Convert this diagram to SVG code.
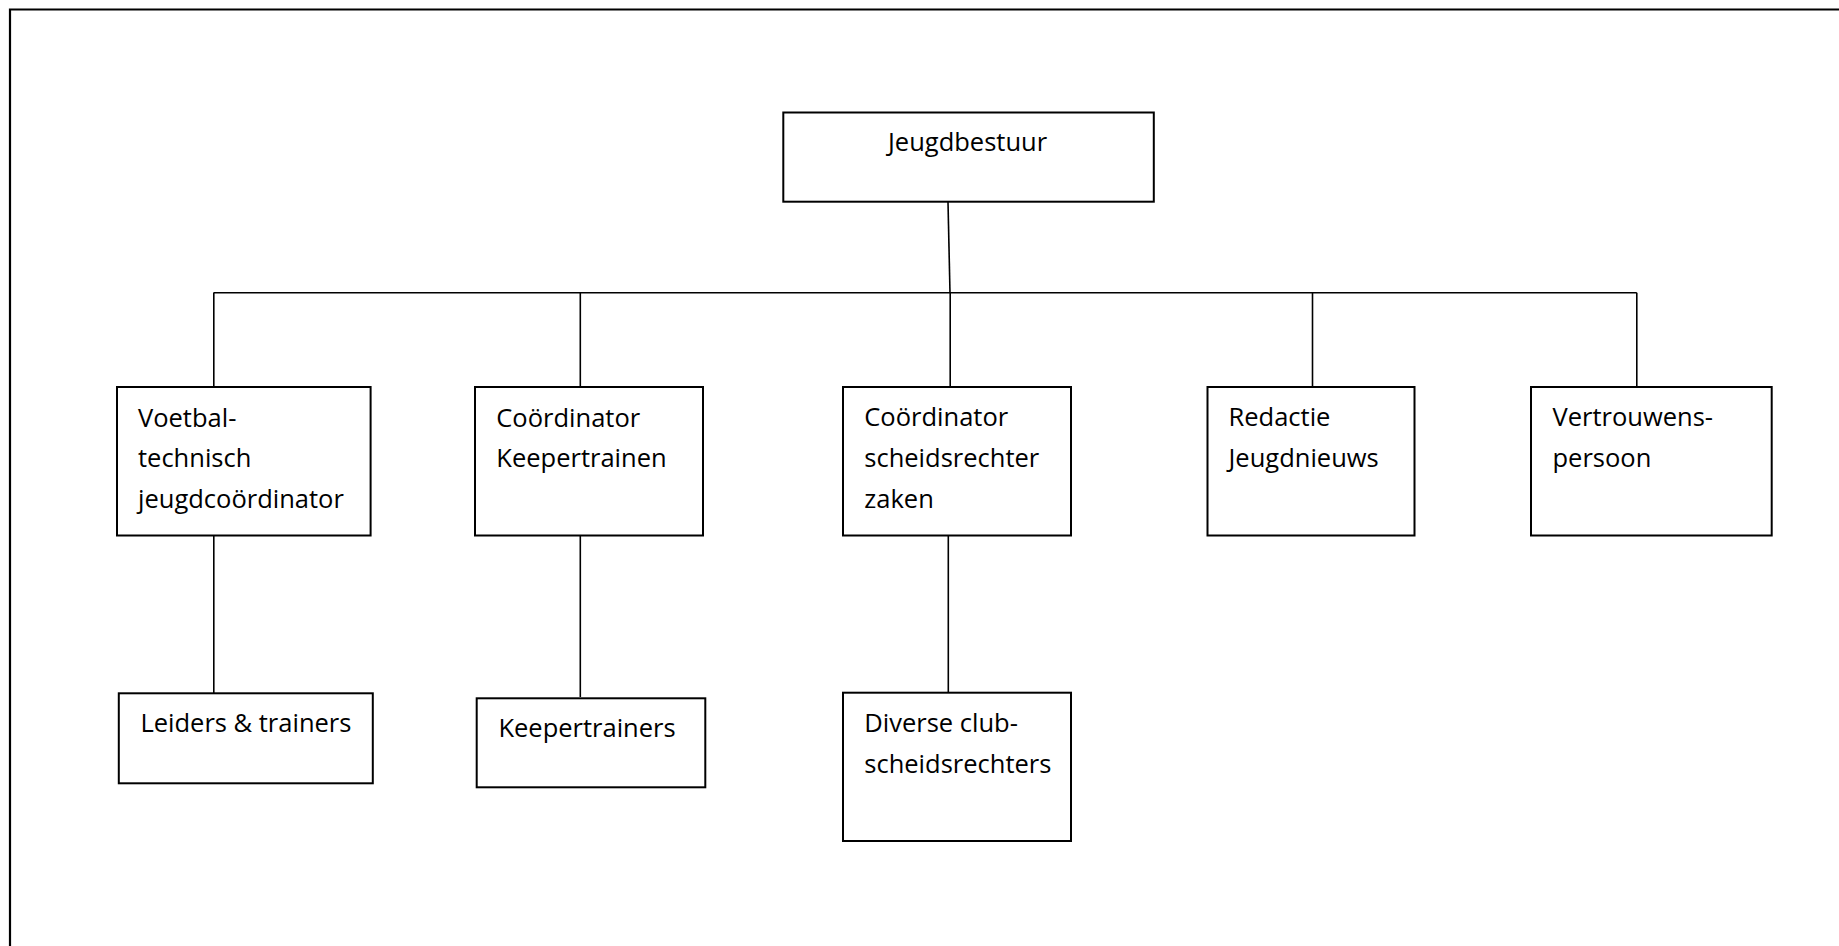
<svg xmlns="http://www.w3.org/2000/svg" width="1839" height="946" viewBox="0 0 1839 946">
<style>
.box{fill:#fff;stroke:#000;stroke-width:2}
.ln{fill:none;stroke:#000;stroke-width:1.6}
text{font-family:"Open Sans","Noto Sans","Liberation Sans",sans-serif;font-size:25.5px;fill:#000}
</style>
<rect width="1839" height="946" fill="#fff"/>
<path d="M10,946 V9.5 H1839" fill="none" stroke="#000" stroke-width="2.2"/>
<g id="connectors">
<path class="ln" d="M948,202 L950,293"/>
<path class="ln" d="M213.5,292.7 H1636.8"/>
<path class="ln" d="M213.8,292.7 V387"/>
<path class="ln" d="M580.3,292.7 V387"/>
<path class="ln" d="M950.2,292.7 V387"/>
<path class="ln" d="M1312.5,292.7 V387"/>
<path class="ln" d="M1636.8,292.7 V387"/>
<path class="ln" d="M213.8,535 V693"/>
<path class="ln" d="M580.3,535 V697"/>
<path class="ln" d="M948.3,535 V693"/>
</g>
<g id="jeugdbestuur">
<rect class="box" x="783.3" y="112.5" width="370.5" height="89.2"/>
<text x="888" y="151">Jeugdbestuur</text>
</g>
<g id="voetbal">
<rect class="box" x="117" y="387" width="253.6" height="148.5"/>
<text x="138" y="426.7">Voetbal-</text>
<text x="138" y="467.3">technisch</text>
<text x="138" y="507.7">jeugdcoördinator</text>
</g>
<g id="keepercoord">
<rect class="box" x="475" y="387" width="228" height="148.5"/>
<text x="496.3" y="426.7">Coördinator</text>
<text x="496.3" y="467.3">Keepertrainen</text>
</g>
<g id="scheidscoord">
<rect class="box" x="843" y="387" width="228" height="148.5"/>
<text x="864.3" y="426">Coördinator</text>
<text x="864.3" y="466.7">scheidsrechter</text>
<text x="864.3" y="507.7">zaken</text>
</g>
<g id="redactie">
<rect class="box" x="1207.5" y="387" width="207" height="148.5"/>
<text x="1228.5" y="426">Redactie</text>
<text x="1228.5" y="467.3">Jeugdnieuws</text>
</g>
<g id="vertrouwens">
<rect class="box" x="1531" y="387" width="240.7" height="148.5"/>
<text x="1552.5" y="426">Vertrouwens-</text>
<text x="1552.5" y="467.3">persoon</text>
</g>
<g id="leiders">
<rect class="box" x="118.8" y="693.3" width="254" height="90"/>
<text x="140.4" y="732.3">Leiders &amp; trainers</text>
</g>
<g id="keepertrainers">
<rect class="box" x="476.7" y="698.3" width="228.6" height="89"/>
<text x="498.4" y="736.7">Keepertrainers</text>
</g>
<g id="diverse">
<rect class="box" x="843" y="692.7" width="228" height="148.3"/>
<text x="864.3" y="731.7">Diverse club-</text>
<text x="864.3" y="773.3">scheidsrechters</text>
</g>
</svg>
